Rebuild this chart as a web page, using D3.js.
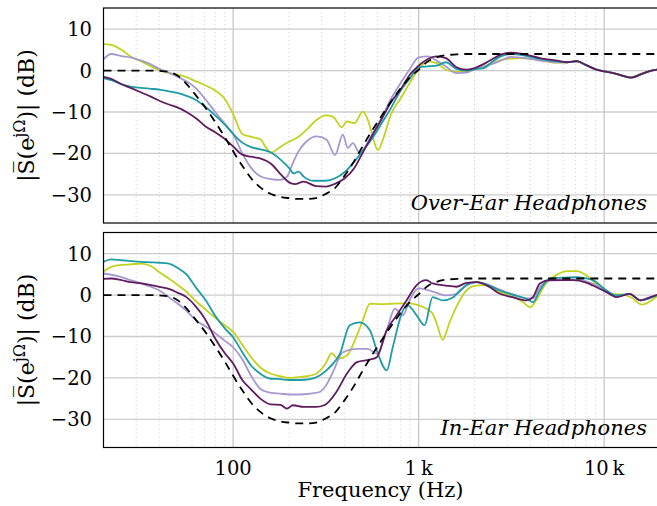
<!DOCTYPE html>
<html>
<head>
<meta charset="utf-8">
<script src="https://cdn.jsdelivr.net/npm/d3@7"></script>
<style>
  body { margin: 0; background: #fff; }
  svg { display: block; }
  text { font-family: "DejaVu Serif", serif; fill: #000; }
</style>
</head>
<body>
<svg id="chart" width="657" height="506"></svg>
<script>
/*
 * Data: [frequency in Hz, magnitude in dB]
 */

// the dashed target response, same in both panels
const targetCurve = [[20,0],[25,0],[32,0],[36,0],[40,-0.1],[45,-0.3],[50,-1.2],[56,-3.2],[63,-6.0],[71,-9.0],[80,-12.4],
  [90,-16.0],[100,-19.5],[112,-23.0],[125,-26.0],[140,-28.2],[160,-29.8],[180,-30.5],[200,-30.8],[225,-31],[250,-31],
  [280,-30.8],[315,-29.8],[355,-28.3],[400,-25.3],[450,-21.8],[500,-18.2],[560,-14.5],[630,-11.0],[710,-7.5],
  [800,-4.3],[900,-1.6],[1000,0.2],[1120,2.2],[1250,3.2],[1400,3.7],[1600,3.9],[1800,4.0],[20000,4.0]];

const overEarLime = [[20,6.4],[22,6.2],[25,5.0],[28,3.4],[32,2.2],[36,1.0],[40,0.1],[45,-0.6],[50,-1.0],[56,-1.6],
  [63,-2.6],[71,-3.6],[80,-4.8],[90,-6.8],[100,-10.5],[112,-15.3],[125,-16.0],[140,-16.6],[150,-18.5],[160,-19.8],
  [180,-18.4],[200,-17.2],[225,-16.0],[250,-14.2],[280,-12.0],[315,-10.8],[345,-11.1],[385,-13.7],[410,-12.3],
  [450,-12.7],[500,-9.9],[532,-11.9],[565,-15.9],[603,-19.2],[641,-16.7],[710,-10.5],[800,-6.7],[900,-2.8],
  [1000,0.4],[1120,2.2],[1250,1.8],[1400,0.2],[1600,-0.3],[1800,-0.2],[2000,0.4],[2250,1.0],[2500,1.8],[2800,2.6],
  [3150,2.9],[3550,3.0],[4000,2.8],[4500,2.5],[5000,2.1],[5600,1.9],[6300,2.0],[7100,2.2],[8000,1.3],[9000,0.3],
  [10000,-0.2],[11200,-0.6],[12500,-1.2],[14000,-1.6],[16000,-0.7],[18000,0.0],[20000,0.3]];

const overEarLavender = [[20,2.7],[22,4.0],[25,3.5],[28,3.2],[32,2.4],[36,1.5],[40,0.4],[45,-0.5],[50,-1.5],[56,-2.6],
  [63,-4.3],[71,-7.0],[80,-10.0],[90,-12.8],[100,-15.3],[112,-20.0],[125,-23.5],[140,-25.5],[160,-26.2],[180,-26.4],
  [195,-25.6],[210,-22.3],[225,-19.5],[250,-17.0],[282,-15.9],[319,-16.7],[354,-20.4],[390,-15.5],[415,-18.7],
  [442,-17.5],[482,-20.0],[500,-19.3],[560,-15.5],[630,-11.5],[710,-6.8],[800,-3.0],[900,0.5],[1000,3.2],[1120,3.4],
  [1250,2.4],[1400,1.0],[1600,-0.6],[1800,-0.5],[2000,0.3],[2250,1.0],[2500,1.6],[2800,2.5],[3150,3.3],[3550,3.1],
  [4000,2.8],[4500,2.4],[5000,2.2],[5600,2.0],[6300,2.0],[7100,2.2],[8000,1.3],[9000,0.3],[10000,-0.2],[11200,-0.6],
  [12500,-1.2],[14000,-1.7],[16000,-0.8],[18000,0.0],[20000,0.3]];

const overEarTeal = [[20,-1.8],[22,-2.3],[25,-3.3],[28,-3.9],[32,-4.2],[36,-4.4],[40,-4.6],[45,-5.0],[50,-5.4],[56,-6.1],
  [63,-7.1],[71,-8.8],[80,-10.8],[90,-13.0],[100,-15.3],[112,-17.4],[125,-18.5],[140,-19.0],[160,-19.8],[180,-21.5],
  [200,-23.5],[212,-24.8],[225,-24.4],[240,-25.6],[270,-26.6],[315,-26.6],[355,-26.0],[400,-24.5],[450,-22.0],
  [500,-19.3],[560,-16.5],[630,-12.8],[710,-9.0],[800,-4.8],[900,-1.8],[1000,0.8],[1120,1.0],[1250,1.2],[1400,2.0],
  [1600,0.4],[1800,0.0],[2000,0.3],[2250,0.6],[2500,2.2],[2800,3.5],[3150,4.0],[3550,3.8],[4000,3.3],[4500,2.8],
  [5000,2.5],[5600,2.2],[6300,2.0],[7100,2.2],[8000,1.3],[9000,0.3],[10000,-0.2],[11200,-0.6],[12500,-1.2],
  [14000,-1.7],[16000,-0.8],[18000,0.0],[20000,0.3]];

const overEarPlum = [[20,-1.5],[22,-2.0],[25,-3.3],[28,-4.2],[32,-5.3],[36,-6.3],[40,-7.3],[45,-8.2],[50,-8.9],[56,-10.0],
  [63,-11.5],[71,-13.5],[80,-14.9],[90,-16.5],[100,-18.3],[112,-20.3],[125,-20.8],[140,-21.2],[160,-22.5],[180,-25.0],
  [200,-27.0],[215,-27.4],[240,-26.8],[280,-27.9],[315,-28.0],[355,-27.3],[400,-26.0],[450,-23.5],[500,-19.8],
  [560,-15.8],[630,-11.8],[710,-7.6],[800,-4.5],[900,-0.9],[1000,1.2],[1120,2.8],[1250,3.4],[1400,3.0],[1600,0.8],
  [1800,0.2],[2000,0.6],[2250,1.6],[2500,2.8],[2800,3.9],[3150,4.3],[3550,4.1],[4000,3.6],[4500,3.0],[5000,2.7],
  [5600,2.4],[6300,2.0],[7100,2.3],[8000,1.3],[9000,0.3],[10000,-0.2],[11200,-0.6],[12500,-1.2],[14000,-1.7],
  [16000,-0.8],[18000,0.0],[20000,0.3]];

const inEarLime = [[20,5.7],[22,6.8],[25,7.3],[28,7.4],[32,7.6],[36,7.0],[40,5.5],[45,4.0],[50,2.5],[56,0.8],[63,-1.5],
  [71,-3.5],[80,-5.5],[90,-7.3],[100,-8.9],[112,-12.0],[125,-15.0],[140,-17.5],[160,-19.0],[180,-19.6],[200,-20.0],
  [225,-19.8],[250,-19.6],[280,-19.0],[315,-16.5],[340,-14.0],[366,-15.4],[410,-14.6],[465,-9.7],[500,-6.1],
  [546,-2.1],[630,-2.2],[710,-2.1],[800,-2.0],[900,-2.0],[1000,-2.5],[1120,-3.5],[1190,-4.5],[1250,-6.8],
  [1347,-10.8],[1470,-6.5],[1600,-2.8],[1800,1.0],[2000,2.2],[2250,2.4],[2500,1.7],[2800,0.6],[3150,-0.3],
  [3550,-1.3],[4000,-2.9],[4300,-1.3],[4800,2.5],[5600,5.0],[6300,5.8],[7100,5.8],[8000,4.8],[9000,2.8],
  [10000,1.0],[11200,0.2],[12500,0.1],[14000,-0.6],[16000,-2.3],[18000,-1.3],[20000,0.3]];

const inEarLavender = [[20,5.2],[22,4.9],[25,4.3],[28,3.6],[32,2.8],[36,2.0],[40,1.1],[45,-0.5],[50,-2.0],[56,-3.8],
  [63,-6.1],[71,-7.6],[80,-9.2],[90,-11.0],[100,-12.6],[112,-15.5],[125,-19.5],[140,-22.6],[160,-23.6],[180,-23.8],
  [200,-24.0],[229,-24.0],[260,-23.8],[293,-23.4],[320,-21.5],[345,-18.6],[390,-13.8],[465,-13.0],[532,-13.0],
  [597,-14.2],[673,-8.5],[745,-3.3],[820,-4.9],[900,-1.0],[1000,1.6],[1120,1.2],[1250,0.5],[1400,-0.1],[1600,0.3],
  [1800,2.3],[2050,3.1],[2400,2.4],[2740,1.3],[3200,0.2],[3820,-0.8],[4130,-0.8],[4500,1.9],[5100,3.5],[6000,3.6],
  [6800,3.8],[8000,3.3],[8700,2.7],[10300,0.8],[11700,-0.3],[13700,0.3],[15700,-1.2],[17500,-0.6],[20000,0.3]];

const inEarTeal = [[20,8.0],[22,8.6],[25,8.4],[28,8.2],[32,8.0],[36,7.9],[40,7.8],[45,7.6],[50,6.6],[56,5.0],[63,1.8],
  [71,-1.2],[80,-5.0],[90,-8.0],[100,-10.2],[112,-13.8],[125,-17.0],[140,-19.0],[160,-20.2],[180,-20.3],[200,-20.5],
  [229,-20.5],[260,-20.3],[293,-19.4],[332,-17.4],[376,-14.2],[425,-7.3],[481,-6.6],[546,-8.5],[595,-13.4],
  [673,-18.2],[725,-12.6],[823,-3.7],[873,-2.5],[975,-4.9],[1075,-7.3],[1190,-0.5],[1350,-1.3],[1530,-0.6],
  [1670,1.1],[1800,2.3],[2050,3.1],[2400,2.3],[2740,1.1],[3200,0.1],[3820,-0.9],[4130,-1.7],[4500,1.1],[5100,4.0],
  [6000,4.2],[6800,4.3],[8000,4.0],[8700,3.6],[10300,1.1],[11700,-0.1],[13700,0.3],[15700,-1.3],[17500,-0.8],
  [20000,0.3]];

const inEarPlum = [[20,3.9],[22,4.0],[25,3.6],[28,3.1],[32,2.8],[36,2.4],[40,2.0],[45,1.5],[50,0.6],[56,-0.5],[63,-2.8],
  [71,-6.0],[80,-10.5],[90,-14.0],[100,-16.5],[112,-20.5],[125,-22.8],[140,-25.0],[160,-26.4],[180,-26.5],
  [195,-27.4],[210,-26.6],[240,-27.0],[280,-27.0],[310,-26.6],[360,-23.4],[410,-19.0],[465,-16.2],[546,-15.6],
  [595,-15.0],[672,-8.5],[750,-5.3],[860,-1.3],[970,2.3],[1100,3.6],[1190,2.8],[1400,2.3],[1600,2.0],[1800,2.9],
  [2050,3.1],[2400,2.0],[2740,0.3],[3200,-0.5],[3820,-1.3],[4130,-0.5],[4500,2.8],[5100,3.6],[6000,3.6],[6800,3.6],
  [8000,3.0],[8700,2.3],[10300,0.7],[11700,-0.5],[13700,0.3],[15700,-1.3],[17500,-0.6],[20000,0.3]];

const yTicks = [10, 0, -10, -20, -30];
const xTicks = [100, 1000, 10000];
const xTickLabels = ['100', '1\u2009k', '10\u2009k'];
const panelTitles = ['Over-Ear Headphones', 'In-Ear Headphones'];
const seriesColors = ['#c3d21f', '#a698cf', '#1e9ca6', '#5f1d5f'];

const panels = [
  { title: panelTitles[0], series: [overEarLime, overEarLavender, overEarTeal, overEarPlum] },
  { title: panelTitles[1], series: [inEarLime, inEarLavender, inEarTeal, inEarPlum] }
];

/*
 * Layout
 */
const xLeft = 103.5, xRight = 660;
const panelTops = [8, 232.5], panelH = 215;

const svg = d3.select('#chart');
const x = d3.scaleLog().domain([20, 20000]).range([xLeft, xRight]);
const isMajor = f => Math.abs(Math.log10(f) - Math.round(Math.log10(f))) < 1e-9;
const minorFreqs = x.ticks().filter(f => !isMajor(f) && f > 20 && f < 20000);

const fmt = v => (v < 0 ? '\u2212' + Math.abs(v) : '' + v);

panels.forEach((p, i) => {
  const top = panelTops[i];
  const y = d3.scaleLinear().domain([-36.8, 15.1]).range([top + panelH, top]);
  const g = svg.append('g');

  g.append('defs').append('clipPath')
      .attr('id', 'clip' + i)
    .append('rect')
      .attr('x', xLeft).attr('y', top)
      .attr('width', xRight - xLeft).attr('height', panelH);

  // minor vertical grid, dotted
  g.append('g').selectAll('line')
    .data(minorFreqs)
    .join('line')
      .attr('x1', d => x(d)).attr('x2', d => x(d))
      .attr('y1', top).attr('y2', top + panelH)
      .attr('stroke', '#c4c4c4')
      .attr('stroke-width', 0.8)
      .attr('stroke-dasharray', '1,3');

  // major grid
  g.append('g').selectAll('line')
    .data(xTicks)
    .join('line')
      .attr('x1', d => x(d)).attr('x2', d => x(d))
      .attr('y1', top).attr('y2', top + panelH)
      .attr('stroke', '#c8c8c8')
      .attr('stroke-width', 1.3);

  g.append('g').selectAll('line')
    .data(yTicks)
    .join('line')
      .attr('x1', xLeft).attr('x2', xRight)
      .attr('y1', d => y(d)).attr('y2', d => y(d))
      .attr('stroke', '#cccccc')
      .attr('stroke-width', 1.3);

  // curves
  const line = d3.line()
    .x(d => x(d[0]))
    .y(d => y(d[1]))
    .curve(d3.curveMonotoneX);

  const curves = g.append('g').attr('clip-path', 'url(#clip' + i + ')');

  curves.selectAll('path.series')
    .data(p.series)
    .join('path')
      .attr('class', 'series')
      .attr('d', line)
      .attr('fill', 'none')
      .attr('stroke', (d, k) => seriesColors[k])
      .attr('stroke-width', 1.8)
      .attr('stroke-linejoin', 'round');

  curves.append('path')
    .datum(targetCurve)
    .attr('d', line)
    .attr('fill', 'none')
    .attr('stroke', '#000')
    .attr('stroke-width', 1.8)
    .attr('stroke-dasharray', '8,6');

  // frame
  g.append('rect')
    .attr('x', xLeft).attr('y', top)
    .attr('width', xRight - xLeft).attr('height', panelH)
    .attr('fill', 'none')
    .attr('stroke', '#000')
    .attr('stroke-width', 1.2);

  // y tick labels
  g.append('g').selectAll('text')
    .data(yTicks)
    .join('text')
      .attr('x', 92)
      .attr('y', d => y(d))
      .attr('dy', '0.36em')
      .attr('text-anchor', 'end')
      .style('font-size', '19.5px')
      .text(fmt);

  // y axis label
  const yl = g.append('text')
    .attr('transform', 'translate(34,' + (top + panelH / 2) + ') rotate(-90)')
    .attr('text-anchor', 'middle')
    .style('font-size', '22px');
  yl.append('tspan').text('|S\u0305(e');
  yl.append('tspan').attr('dy', -9).style('font-size', '16px').text('j\u03A9');
  yl.append('tspan').attr('dy', 9).text(')| (dB)');

  // panel title
  g.append('text')
    .attr('x', 647)
    .attr('y', top + 202)
    .attr('text-anchor', 'end')
    .style('font-size', '21px')
    .style('font-style', 'italic')
    .text(p.title);
});

// x tick labels and axis title under the lower panel
svg.append('g').selectAll('text')
  .data(xTicks)
  .join('text')
    .attr('x', d => x(d))
    .attr('y', 475)
    .attr('text-anchor', 'middle')
    .style('font-size', '19.5px')
    .text((d, k) => xTickLabels[k]);

svg.append('text')
  .attr('x', 380.5)
  .attr('y', 497)
  .attr('text-anchor', 'middle')
  .style('font-size', '21px')
  .text('Frequency (Hz)');
</script>
</body>
</html>
